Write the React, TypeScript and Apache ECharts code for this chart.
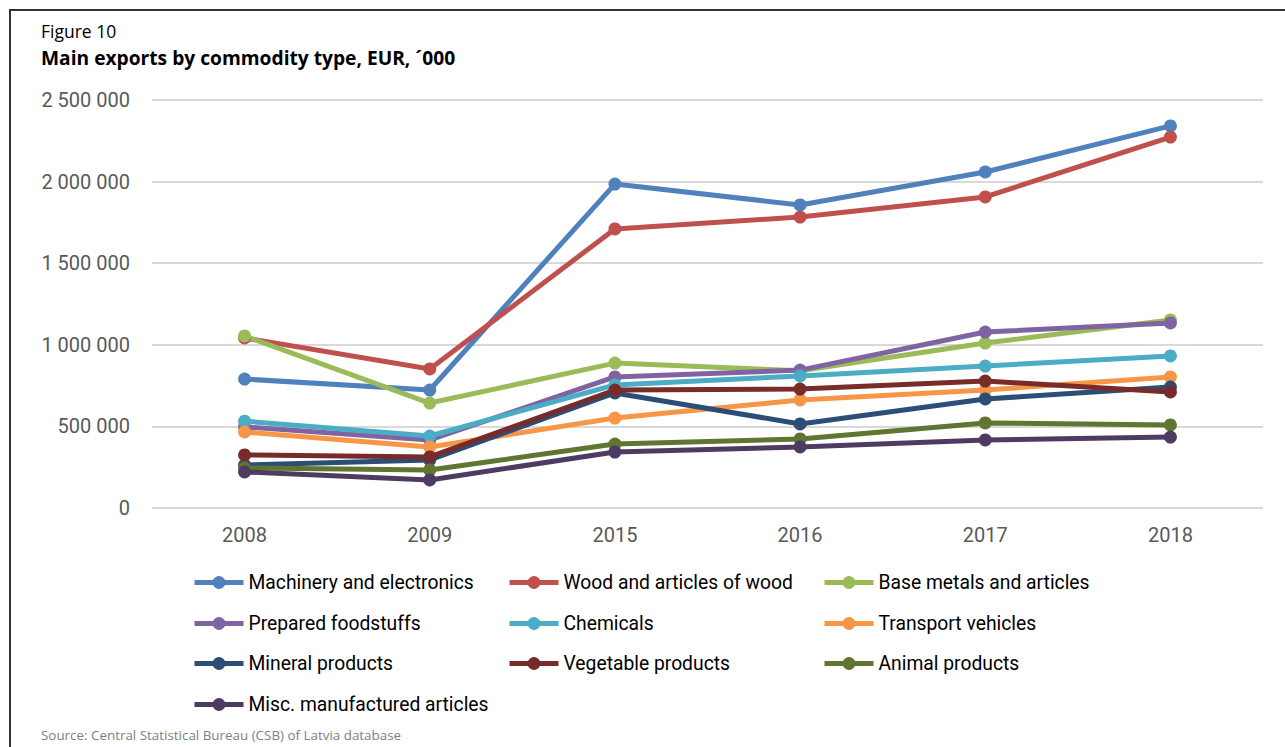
import React, { useEffect, useRef } from "react";
import * as echarts from "echarts";

const years = ["2008", "2009", "2015", "2016", "2017", "2018"];

const seriesNames = [
  "Machinery and electronics",
  "Wood and articles of wood",
  "Base metals and articles",
  "Prepared foodstuffs",
  "Chemicals",
  "Transport vehicles",
  "Mineral products",
  "Vegetable products",
  "Animal products",
  "Misc. manufactured articles",
];

const machinery = [790000, 723000, 1985000, 1857000, 2059000, 2341000];
const wood = [1042000, 852000, 1710000, 1783000, 1906000, 2273000];
const baseMetals = [1054000, 643000, 888000, 841000, 1011000, 1152000];
const foodstuffs = [497000, 417000, 803000, 845000, 1078000, 1134000];
const chemicals = [532000, 441000, 754000, 809000, 870000, 932000];
const transport = [466000, 374000, 551000, 662000, 723000, 803000];
const mineral = [263000, 294000, 705000, 515000, 668000, 741000];
const vegetable = [325000, 313000, 723000, 729000, 778000, 711000];
const animal = [245000, 233000, 392000, 423000, 521000, 509000];
const misc = [221000, 172000, 343000, 374000, 417000, 435000];

const seriesValues = [machinery, wood, baseMetals, foodstuffs, chemicals, transport, mineral, vegetable, animal, misc];

const colors = [
  "#4F81BD",
  "#C0504D",
  "#9BBB59",
  "#8064A2",
  "#4BACC6",
  "#F79646",
  "#2C4D75",
  "#772C2A",
  "#5F7530",
  "#4D3B62",
];

const yTicks = [0, 500000, 1000000, 1500000, 2000000, 2500000];

const FONT = "Roboto, 'Noto Sans', sans-serif";
const TITLE_FONT = "'Open Sans', 'Noto Sans', sans-serif";

export default function App() {
  const ref = useRef<HTMLDivElement>(null);

  useEffect(() => {
    if (!ref.current) return;
    const chart = echarts.init(ref.current, null, { renderer: "svg" });

    const legendCols = [192, 507, 822];
    const legendRows = [573, 614, 654, 695];

    const legends = seriesNames.map((name, i) => ({
      data: [name],
      left: legendCols[i % 3],
      top: legendRows[Math.floor(i / 3)],
      itemWidth: 49,
      itemHeight: 16,
      itemGap: 0,
      padding: 0,
      selectedMode: false,
      textStyle: { fontFamily: FONT, fontSize: 19.3, color: "#000000", padding: [0, 0, 0, 0] },
      lineStyle: { width: 5 },
    }));

    chart.setOption({
      animation: false,
      backgroundColor: "#ffffff",
      color: colors,
      textStyle: { fontFamily: FONT },
      grid: { left: 152, right: 22, top: 100, bottom: 239, containLabel: false },
      xAxis: {
        type: "category",
        data: years,
        boundaryGap: true,
        axisLine: { show: false },
        axisTick: { show: false },
        axisLabel: { color: "#595959", fontSize: 20, fontFamily: FONT, margin: 17 },
      },
      yAxis: {
        type: "value",
        min: 0,
        max: yTicks[yTicks.length - 1],
        interval: 500000,
        axisLine: { show: false },
        axisTick: { show: false },
        splitLine: { lineStyle: { color: "#D9D9D9", width: 2 } },
        axisLabel: {
          color: "#595959",
          fontSize: 20,
          fontFamily: FONT,
          margin: 22,
          formatter: (v: number) => String(v).replace(/\B(?=(\d{3})+(?!\d))/g, " "),
        },
      },
      legend: legends,
      series: seriesNames.map((name, i) => ({
        name,
        type: "line",
        data: seriesValues[i],
        symbol: "circle",
        symbolSize: 13,
        lineStyle: { width: 5, color: colors[i] },
        itemStyle: { color: colors[i] },
        emphasis: { disabled: true },
      })),
      graphic: [
        { type: "rect", shape: { x: 9, y: 9, width: 2, height: 738 }, style: { fill: "#333333" } },
        { type: "rect", shape: { x: 9, y: 9, width: 1276, height: 2 }, style: { fill: "#333333" } },
        {
          type: "text",
          left: 41,
          top: 22,
          style: { text: "Figure 10", fontFamily: TITLE_FONT, fontSize: 17.5, fill: "#000000" },
        },
        {
          type: "text",
          left: 41,
          top: 48,
          style: {
            text: "Main exports by commodity type, EUR, \u00B4000",
            fontFamily: TITLE_FONT,
            fontSize: 19.2,
            fontWeight: "bold",
            fill: "#000000",
          },
        },
        {
          type: "text",
          left: 41,
          top: 728,
          style: {
            text: "Source: Central Statistical Bureau (CSB) of Latvia database",
            fontFamily: TITLE_FONT,
            fontSize: 13.4,
            fill: "#808080",
          },
        },
      ],
    });

    return () => chart.dispose();
  }, []);

  return (
    <div
      ref={ref}
      style={{ position: "fixed", left: 0, top: 0, width: 1285, height: 747, background: "#fff" }}
    />
  );
}
